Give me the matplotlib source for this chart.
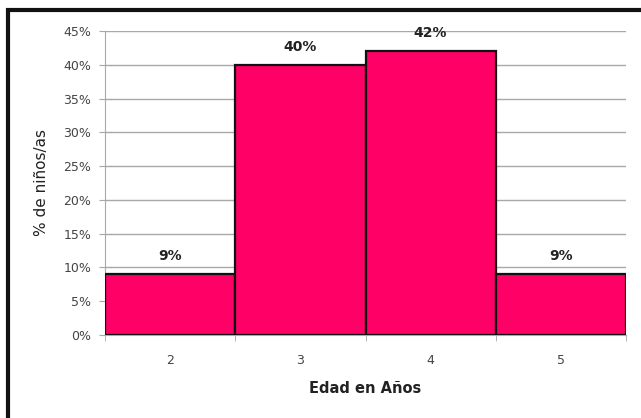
import matplotlib.pyplot as plt
from matplotlib.patches import Rectangle
from matplotlib.ticker import FuncFormatter

edades = ['2', '3', '4', '5']
porcentajes = [9, 40, 42, 9]
etiquetas = ['9%', '40%', '42%', '9%']
y_ticks = [0, 5, 10, 15, 20, 25, 30, 35, 40, 45]

fig = plt.figure(figsize=(6.41, 4.18), dpi=100)
ax = fig.add_axes([105 / 641, 83 / 418, 521 / 641, 304 / 418])

# marco negro del grafico (solo se ve arriba y a la izquierda)
fig.patches.append(Rectangle((8 / 641, -0.1), 1.2, 1.1 - 10 / 418,
                             transform=fig.transFigure, fill=False,
                             edgecolor='#111111', linewidth=3, zorder=10))

x = list(range(len(edades)))
ax.bar(x, porcentajes, width=1.0, color='#ff0066', edgecolor='#111111',
       linewidth=1.6, zorder=3)

for xi, v, lab in zip(x, porcentajes, etiquetas):
    ax.text(xi, v + 1.6, lab, ha='center', va='bottom', fontsize=10,
            fontweight='bold', color='#222222')

ax.set_xlim(-0.5, len(edades) - 0.5)
ax.set_ylim(0, 45)
ax.set_yticks(y_ticks)
ax.yaxis.set_major_formatter(FuncFormatter(lambda v, p: f'{v:.0f}%'))
ax.set_xticks(x)
ax.set_xticklabels(edades)
ax.set_xticks([i - 0.5 for i in range(len(edades) + 1)], minor=True)

ax.grid(axis='y', color='#a8a8a8', linewidth=1, zorder=0)
for s in ['top', 'right']:
    ax.spines[s].set_visible(False)
ax.spines['left'].set_color('#a8a8a8')
ax.spines['bottom'].set_color('#a8a8a8')

ax.tick_params(axis='y', colors='#a8a8a8', labelcolor='#444444',
               labelsize=9, length=4, pad=6)
ax.tick_params(axis='x', which='major', length=0, labelcolor='#444444',
               labelsize=9, pad=14)
ax.tick_params(axis='x', which='minor', length=4, color='#a8a8a8')

ax.set_ylabel('% de niños/as', fontsize=11, fontweight='medium',
              color='#222222', labelpad=10)
ax.set_xlabel('Edad en Años', fontsize=10.5, fontweight='bold',
              color='#222222', labelpad=10)

fig.savefig('out.png', dpi=100)
